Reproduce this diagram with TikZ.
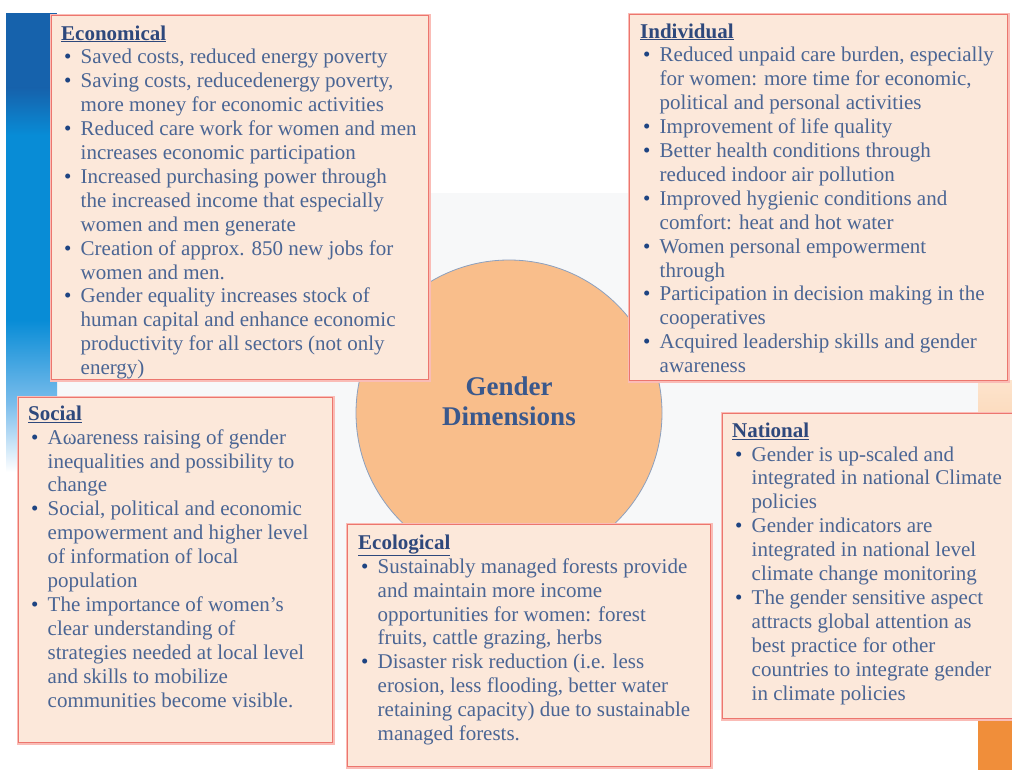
\documentclass[tikz,border=0pt]{standalone}
\usepackage{fontspec}
\setmainfont{Liberation Serif}
\definecolor{boxfill}{RGB}{252,232,218}
\definecolor{boxline}{RGB}{236,118,110}
\definecolor{boxglow}{RGB}{250,188,182}
\definecolor{txt}{RGB}{74,101,148}
\definecolor{head}{RGB}{46,72,124}
\definecolor{bul}{RGB}{30,68,130}
\definecolor{circfill}{RGB}{249,190,139}
\definecolor{circline}{RGB}{140,160,190}
\definecolor{ctext}{RGB}{58,88,140}
\definecolor{panel}{RGB}{247,248,249}
\definecolor{bdark}{RGB}{22,98,172}
\definecolor{bbright}{RGB}{8,140,214}
\definecolor{blight}{RGB}{125,190,236}
\definecolor{olight}{RGB}{253,228,205}
\definecolor{oranged}{RGB}{240,142,58}
\newcommand{\hd}[1]{{\color{head}\bfseries\underline{#1}}}
\newcommand{\bu}{\makebox[19.5pt][l]{\hspace{3pt}{\color{bul}\textbullet}}}
\newcommand{\ii}{\hspace*{19.5pt}}
\begin{document}
\begin{tikzpicture}[x=1pt,y=-1pt,
  panelbox/.style={rectangle, fill=boxfill, draw=boxline, line width=1.3pt,
    preaction={draw=boxglow, line width=4pt}, anchor=north west, inner sep=0pt},
  bodytext/.style={anchor=base west, align=left, inner sep=0pt, text=txt,
    font=\fontsize{21}{23.9}\selectfont}]
\useasboundingbox (0,0) rectangle (1012,770);
\clip (0,0) rectangle (1012,770);
\fill[white] (0,0) rectangle (1012,770);
% background panel
\fill[panel] (57,193) rectangle (978,710);
% blue bar
\fill[bdark] (6,13) rectangle (57,88.5);
\shade[top color=bdark,bottom color=bbright] (6,88) rectangle (57,135.5);
\fill[bbright] (6,135) rectangle (57,320.5);
\shade[top color=bbright,bottom color=blight] (6,320) rectangle (57,405.5);
\shade[top color=blight,bottom color=white] (6,405) rectangle (57,472);
% orange bar
\shade[top color=olight,bottom color=oranged] (978,380) rectangle (1012,718.5);
\fill[oranged] (978,718) rectangle (1012,770);
% circle
\node[circle, fill=circfill, draw=circline, line width=0.8pt, minimum size=306pt, inner sep=0pt] (gd) at (509,413) {};
\node[align=center, text=ctext, font=\fontsize{27}{30}\selectfont\bfseries, inner sep=0pt] (gdl) at (509,401) {Gender\\Dimensions};
% boxes
\node[panelbox, minimum width=377pt, minimum height=364pt] (econbox) at (51,15) {};
\node[panelbox, minimum width=378pt, minimum height=366pt] (indbox) at (629,14) {};
\node[panelbox, minimum width=314pt, minimum height=345pt] (socbox) at (18,397) {};
\node[panelbox, minimum width=363pt, minimum height=242pt] (ecobox) at (347,524) {};
\node[panelbox, minimum width=300pt, minimum height=305pt] (natbox) at (722,413) {};
% texts (anchored at the baseline of their last line)
\node[bodytext] (econ) at (61,374.6) {\hd{Economical}\\
\bu Saved costs, reduced energy poverty\\
\bu Saving costs, reducedenergy poverty,\\
\ii more money for economic activities\\
\bu Reduced care work for women and men\\
\ii increases economic participation\\
\bu Increased purchasing power through\\
\ii the increased income that especially\\
\ii women and men generate\\
\bu Creation of approx. 850 new jobs for\\
\ii women and men.\\
\bu Gender equality increases stock of\\
\ii human capital and enhance economic\\
\ii productivity for all sectors (not only\\
\ii energy)};
\node[bodytext] (ind) at (640,372.6) {\hd{Individual}\\
\bu Reduced unpaid care burden, especially\\
\ii for women: more time for economic,\\
\ii political and personal activities\\
\bu Improvement of life quality\\
\bu Better health conditions through\\
\ii reduced indoor air pollution\\
\bu Improved hygienic conditions and\\
\ii comfort: heat and hot water\\
\bu Women personal empowerment\\
\ii through\\
\bu Participation in decision making in the\\
\ii cooperatives\\
\bu Acquired leadership skills and gender\\
\ii awareness};
\node[bodytext] (soc) at (28,707) {\hd{Social}\\
\bu Aωareness raising of gender\\
\ii inequalities and possibility to\\
\ii change\\
\bu Social, political and economic\\
\ii empowerment and higher level\\
\ii of information of local\\
\ii population\\
\bu The importance of women’s\\
\ii clear understanding of\\
\ii strategies needed at local level\\
\ii and skills to mobilize\\
\ii communities become visible.};
\node[bodytext] (eco) at (358,740.5) {\hd{Ecological}\\
\bu Sustainably managed forests provide\\
\ii and maintain more income\\
\ii opportunities for women: forest\\
\ii fruits, cattle grazing, herbs\\
\bu Disaster risk reduction (i.e. less\\
\ii erosion, less flooding, better water\\
\ii retaining capacity) due to sustainable\\
\ii managed forests.};
\node[bodytext] (nat) at (732,700) {\hd{National}\\
\bu Gender is up-scaled and\\
\ii integrated in national Climate\\
\ii policies\\
\bu Gender indicators are\\
\ii integrated in national level\\
\ii climate change monitoring\\
\bu The gender sensitive aspect\\
\ii attracts global attention as\\
\ii best practice for other\\
\ii countries to integrate gender\\
\ii in climate policies};
\end{tikzpicture}
\end{document}
